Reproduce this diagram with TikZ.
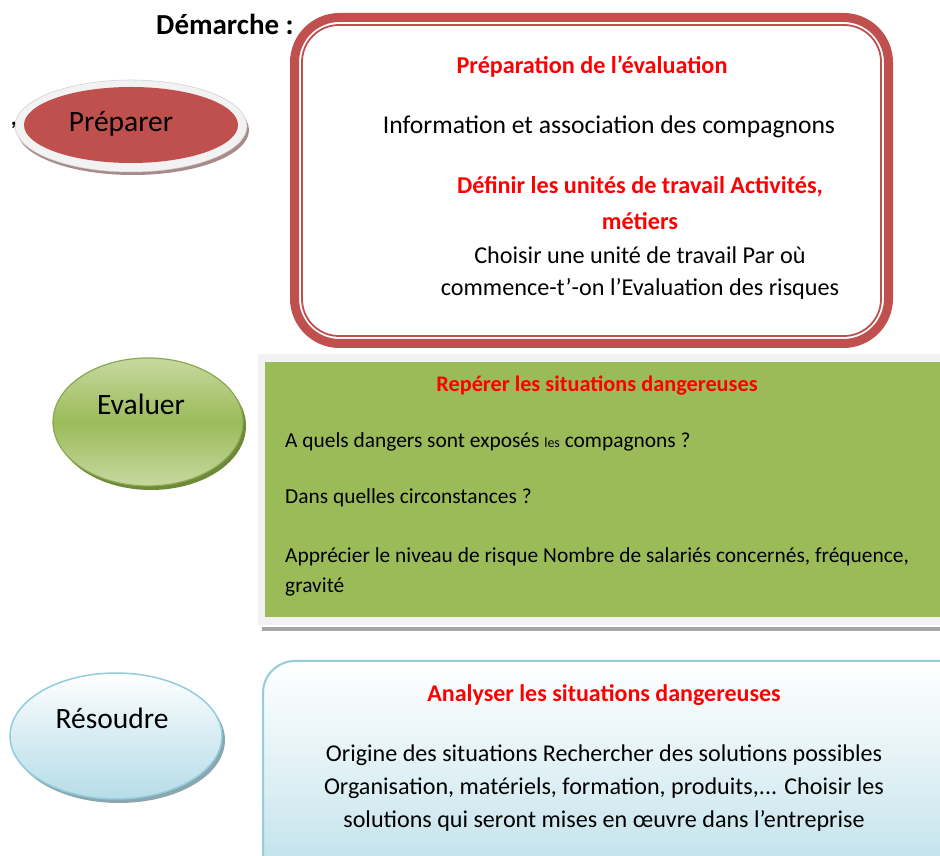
\documentclass[tikz,border=0pt]{standalone}
\usepackage{fontspec}
\setmainfont{Carlito}
\usepackage{tikz}
\usetikzlibrary{positioning}
\definecolor{cRed}{HTML}{C0504D}
\definecolor{cRedShadow}{HTML}{A88A8A}
\definecolor{cTitle}{HTML}{FF0000}
\definecolor{cGreen}{HTML}{9BBB59}
\definecolor{cGreenLight}{HTML}{C6D9A0}
\definecolor{cGreenDark}{HTML}{6E8A38}
\definecolor{cBlue}{HTML}{93CDDD}
\definecolor{cBlueLight}{HTML}{B7DDE8}
\definecolor{cBlueShadow}{HTML}{8AA6AE}
\definecolor{cFrame}{HTML}{F2F2F2}
\definecolor{cGray}{HTML}{A6A6A6}
\tikzset{
  txt-body/.style={font=\fontsize{24.2}{28}\selectfont,inner sep=0pt},
  txt-small/.style={font=\fontsize{21.4}{25}\selectfont,inner sep=0pt,anchor=west},
  txt-title/.style={font=\fontsize{24.2}{28}\selectfont\bfseries,text=cTitle,inner sep=0pt},
  txt-blue/.style={font=\fontsize{24.1}{28}\selectfont,inner sep=0pt},
  txt-stage/.style={font=\fontsize{29.5}{34}\selectfont,inner sep=0pt},
  box-red/.style={draw=cRed,rounded corners=45pt,line width=9pt},
  box-red-inner/.style={draw=cRed,rounded corners=37pt,line width=1.8pt},
  box-blue/.style={draw=cBlue,line width=2pt,rounded corners=32pt,
    top color=white,bottom color=cBlueLight,middle color=cBlueLight!45},
}

\begin{document}
\begin{tikzpicture}[x=1pt,y=1pt]
  \clip (0,0) rectangle (940,856);
  \fill[white] (0,0) rectangle (940,856);

  % titre
  \node[font=\fontsize{29}{33}\selectfont\bfseries,inner sep=0pt] (titre) at (225,832) {Démarche :};
  \node[font=\fontsize{24}{28}\selectfont\bfseries,inner sep=0pt] (virgule) at (14,731) {,};

  % Préparer
  \fill[cRedShadow] (133,726) ellipse (116 and 45);
  \draw[fill=cFrame,draw=cFrame!85!black,line width=0.5pt] (131,730) ellipse (116 and 46);
  \fill[cRed] (131,731) ellipse (107 and 38);
  \node[txt-stage] (preparer) at (121,732) {Préparer};

  \draw[box-red] (294.5,838.5) rectangle (888.5,512.5);
  \draw[box-red-inner] (302,831) rectangle (881,520);
  \node[txt-title] (prepTitre) at (592,789) {Préparation de l’évaluation};
  \node[txt-body,font=\fontsize{25.6}{30}\selectfont] (prepInfo) at (609,729) {Information et association des compagnons};
  \node[txt-title] (prepUnites) at (640,669) {Définir les unités de travail Activités,};
  \node[txt-title] (prepMetiers) at (640,635) {métiers};
  \node[txt-body] (prepChoix) at (640,601) {Choisir une unité de travail Par où};
  \node[txt-body] (prepDebut) at (640,567) {commence-t’-on l’Evaluation des risques};

  % Evaluer
  \fill[cGreenDark] (151,430) ellipse (95 and 64);
  \shade[top color=cGreenLight,bottom color=cGreenLight,middle color=cGreen]
    (148,434) ellipse (95 and 64);
  \draw[cGreen!90!black,line width=1.2pt] (148,434) ellipse (95 and 64);
  \node[txt-stage] (evaluer) at (141,452) {Evaluer};

  \fill[cGray] (262,225) rectangle (940,229);
  \fill[cFrame] (258,231) rectangle (940,502);
  \fill[cGreen] (265,239) rectangle (940,494);
  \node[font=\fontsize{22.3}{26}\selectfont\bfseries,text=cTitle,inner sep=0pt] (evalTitre) at (597,470) {Repérer les situations dangereuses};
  \node[txt-small] (evalDangers) at (285,414) {A quels dangers sont exposés {\fontsize{14}{16}\selectfont les} compagnons ?};
  \node[txt-small] (evalCirc) at (285,358) {Dans quelles circonstances ?};
  \node[txt-small] (evalNiveau) at (285,299) {Apprécier le niveau de risque Nombre de salariés concernés, fréquence,};
  \node[txt-small] (evalGravite) at (285,269) {gravité};

  % Résoudre
  \fill[cBlueShadow] (119,116) ellipse (106 and 63);
  \shade[top color=white,bottom color=cBlueLight,middle color=cBlueLight!55]
    (116,120) ellipse (106 and 63);
  \draw[cBlue,line width=1.5pt] (116,120) ellipse (106 and 63);
  \node[txt-stage] (resoudre) at (112,138) {Résoudre};

  \draw[box-blue] (263,195) rectangle (975,-40);
  \node[txt-blue,font=\fontsize{24}{28}\selectfont\bfseries,text=cTitle] (resTitre) at (604,161) {Analyser les situations dangereuses};
  \node[txt-blue] (resOrigine) at (604,101) {Origine des situations Rechercher des solutions possibles};
  \node[txt-blue] (resOrga) at (604,68) {Organisation, matériels, formation, produits,... Choisir les};
  \node[txt-blue] (resChoix) at (604,35) {solutions qui seront mises en œuvre dans l’entreprise};
\end{tikzpicture}
\end{document}
